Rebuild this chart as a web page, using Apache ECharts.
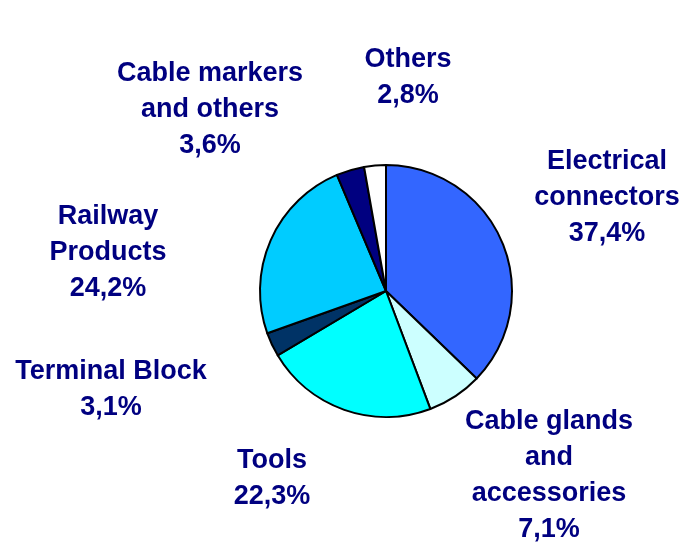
<!DOCTYPE html>
<html>
<head>
<meta charset="utf-8">
<script src="https://cdn.jsdelivr.net/npm/echarts@6/dist/echarts.min.js"></script>
<style>
  html, body { margin: 0; padding: 0; background: #fff; }
  #pie { width: 686px; height: 544px; }
</style>
</head>
<body>
<div id="pie"></div>
<script>
// categories clockwise from 12 o'clock
const categories = [
    'Electrical\nconnectors',
    'Cable glands\nand\naccessories',
    'Tools',
    'Terminal Block',
    'Railway\nProducts',
    'Cable markers\nand others',
    'Others'
]
const shares = [37.4, 7.1, 22.3, 3.1, 24.2, 3.6, 2.8]
const colors = ['#3366FF', '#CCFFFF', '#00FFFF', '#003366', '#00CCFF', '#000080', '#FFFFFF']
// where each label block sits (centre of text block)
const labelPos = [
    [607, 198],
    [549, 476],
    [272, 479],
    [111, 390],
    [108, 253],
    [210, 110],
    [408, 78]
]

let myChart = echarts.init(document.getElementById('pie'))
let option = {
    backgroundColor: '#ffffff',
    animation: false,
    series: [{
        type: 'pie',
        center: [386, 291],
        radius: 126,
        startAngle: 90,
        clockwise: true,
        data: categories.map((name, i) => ({
            name: name,
            value: shares[i],
            itemStyle: { color: colors[i] }
        })),
        itemStyle: {
            borderColor: '#000000',
            borderWidth: 2
        },
        label: {
            show: true,
            position: 'outside',
            formatter: (p) => p.name + '\n' + p.value.toFixed(1).replace('.', ',') + '%',
            color: '#000080',
            fontFamily: '"Liberation Sans", Arial, sans-serif',
            fontWeight: 'bold',
            fontSize: 27,
            lineHeight: 36,
            align: 'center',
            overflow: 'none'
        },
        labelLine: { show: false },
        labelLayout: (params) => ({
            x: labelPos[params.dataIndex][0],
            y: labelPos[params.dataIndex][1],
            align: 'center',
            verticalAlign: 'middle'
        }),
        emphasis: { disabled: true }
    }]
}
option && myChart.setOption(option)
</script>
</body>
</html>
